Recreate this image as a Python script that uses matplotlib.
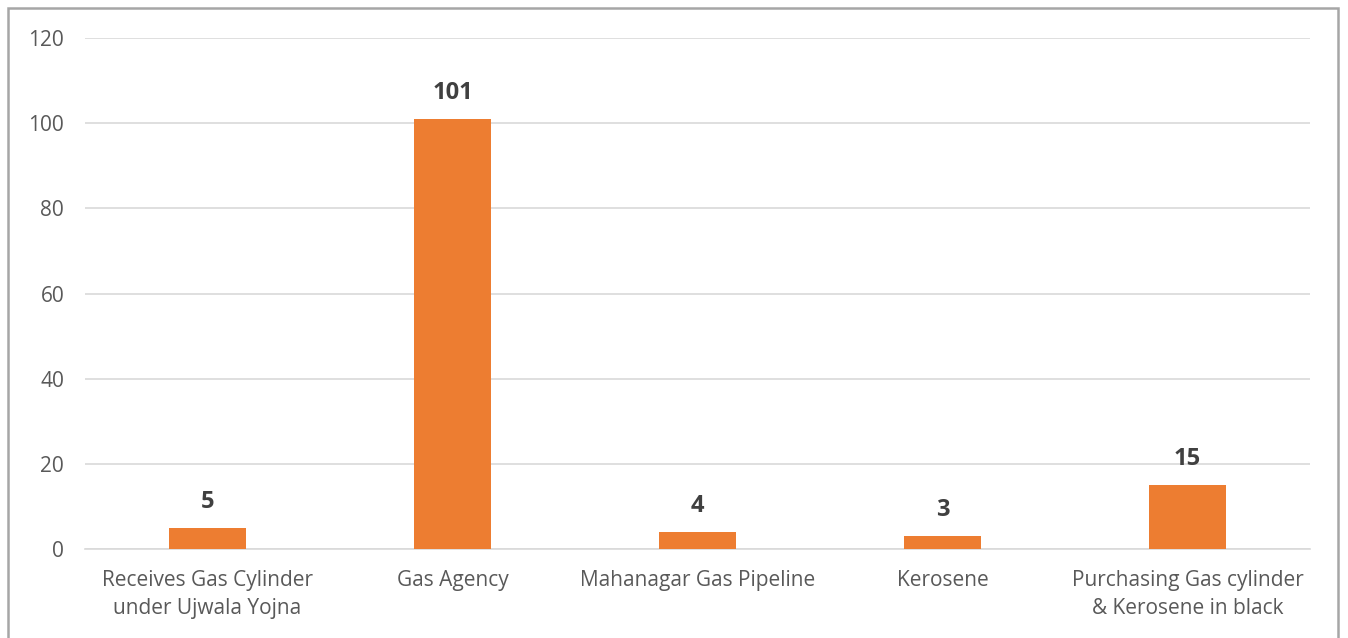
import matplotlib.pyplot as plt
from matplotlib.patches import Rectangle

# --- DATA ---
categories = [
    "Receives Gas Cylinder\nunder Ujwala Yojna",
    "Gas Agency",
    "Mahanagar Gas Pipeline",
    "Kerosene",
    "Purchasing Gas cylinder\n& Kerosene in black",
]
counts = [5, 101, 4, 3, 15]
yticks = [0, 20, 40, 60, 80, 100, 120]

BAR_COLOR = "#ED7D31"
TEXT_COLOR = "#595959"
GRID_COLOR = "#D9D9D9"

plt.rcParams['font.family'] = ['Open Sans', 'DejaVu Sans']


def plot_chart():
    fig = plt.figure(figsize=(13.48, 6.38), dpi=100)
    ax = fig.add_axes([85 / 1348, 1 - 549 / 638, (1310 - 85) / 1348, (549 - 38) / 638])

    x = list(range(len(categories)))
    ax.bar(x, counts, width=0.314, color=BAR_COLOR, zorder=3)

    for xi, v in zip(x, counts):
        ax.annotate(str(v), (xi, v), xytext=(0, 10), textcoords='offset points',
                    ha='center', va='bottom', fontsize=17, fontweight='bold',
                    color='#404040')

    ax.set_xlim(-0.5, len(categories) - 0.5)
    ax.set_ylim(0, 120)
    ax.set_yticks(yticks)
    ax.set_xticks(x)
    ax.set_xticklabels(categories, fontsize=15, color=TEXT_COLOR, linespacing=1.45)
    ax.tick_params(axis='y', labelsize=15, labelcolor=TEXT_COLOR, length=0, pad=15)
    ax.tick_params(axis='x', length=0, pad=15)

    ax.grid(axis='y', color=GRID_COLOR, linewidth=1.2, zorder=0)
    for side in ['left', 'right', 'top']:
        ax.spines[side].set_visible(False)
    ax.spines['bottom'].set_color(GRID_COLOR)
    ax.spines['bottom'].set_linewidth(1.2)

    # outer chart border
    border = Rectangle((8 / 1348, -0.05), (1338 - 8) / 1348, 1.05 - 8 / 638,
                       transform=fig.transFigure, fill=False,
                       edgecolor='#A6A6A6', linewidth=1.8)
    fig.patches.append(border)

    fig.savefig("out.png", dpi=100)


if __name__ == "__main__":
    plot_chart()
